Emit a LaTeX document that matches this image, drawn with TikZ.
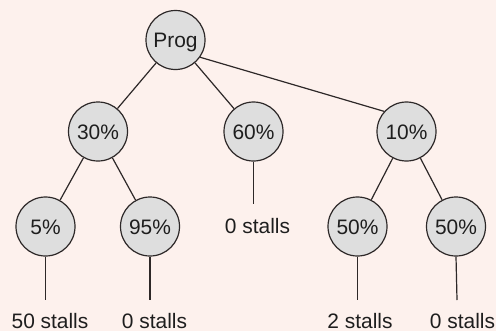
\documentclass[tikz,border=0pt]{standalone}
\usepackage{fontspec}
\setmainfont{Liberation Sans}
\definecolor{bgpink}{RGB}{253,241,237}
\definecolor{nodegray}{RGB}{222,222,222}
\definecolor{linegray}{RGB}{45,40,40}
\definecolor{txtcol}{RGB}{30,30,30}
\tikzset{
  pnode/.style={circle,draw=linegray,line width=1.2bp,fill=nodegray,minimum size=59bp,inner sep=0pt,
    text=txtcol,font=\fontsize{21}{25}\selectfont,text height=15bp,text depth=0pt},
  stallslabel/.style={anchor=base,inner sep=0pt,text=txtcol,font=\fontsize{21}{25}\selectfont},
  edge/.style={draw=linegray,line width=1.2bp}
}
\begin{document}
\begin{tikzpicture}[x=1bp,y=-1bp]
\fill[bgpink] (0,0) rectangle (496,331);
\useasboundingbox (0,0) rectangle (496,331);
\node[pnode] (prog) at (175.5,40) {Prog};
\node[pnode] (n30) at (98,131.5) {30\%};
\node[pnode] (n60) at (253.5,131.5) {60\%};
\node[pnode] (n10) at (406.5,131.5) {10\%};
\node[pnode] (n5) at (45.5,226.5) {5\%};
\node[pnode] (n95) at (150,226.5) {95\%};
\node[pnode] (n50a) at (357.5,226.5) {50\%};
\node[pnode] (n50b) at (456,226.5) {50\%};
\node[stallslabel] (l5) at (50,328) {50 stalls};
\node[stallslabel] (l95) at (154.5,328) {0 stalls};
\node[stallslabel] (l60) at (257.5,233) {0 stalls};
\node[stallslabel] (l50a) at (360,328) {2 stalls};
\node[stallslabel] (l50b) at (462.5,328) {0 stalls};
\coordinate (e5) at (45.5,300);
\coordinate (e95) at (150,300);
\coordinate (e60) at (253.5,204);
\coordinate (e50a) at (357.5,300);
\coordinate (e50b) at (457,300);
\draw[edge] (prog) -- (n30);
\draw[edge] (prog) -- (n60);
\draw[edge] (prog.-35) -- (n10.138);
\draw[edge] (n30) -- (n5);
\draw[edge] (n30) -- (n95);
\draw[edge] (n10) -- (n50a);
\draw[edge] (n10) -- (n50b);
\draw[edge] (n60.south) -- (e60);
\draw[edge] (n5.south) -- (e5);
\draw[edge] (n95.south) -- (e95);
\draw[edge] (n50a.south) -- (e50a);
\draw[edge] (n50b.south) -- (e50b);
\end{tikzpicture}
\end{document}
